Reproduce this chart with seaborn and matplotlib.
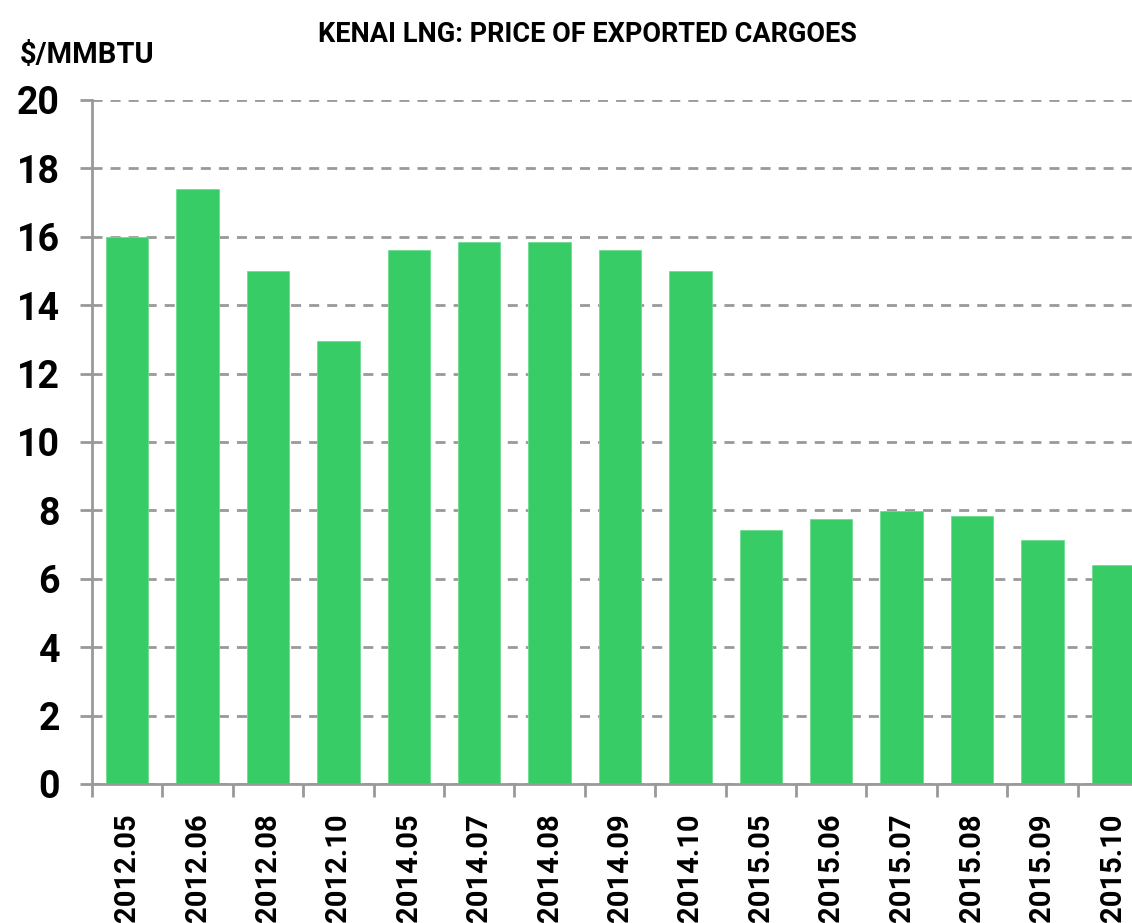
import numpy as np
import pandas as pd
import seaborn as sns
import matplotlib.pyplot as plt

months = ['2012.05', '2012.06', '2012.08', '2012.10', '2014.05', '2014.07', '2014.08',
          '2014.09', '2014.10', '2015.05', '2015.06', '2015.07', '2015.08', '2015.09', '2015.10']
prices = [16.0, 17.4, 15.0, 12.95, 15.6, 15.85, 15.85, 15.6, 15.0, 7.43, 7.75, 7.98, 7.84, 7.13, 6.4]
y_ticks = [0, 2, 4, 6, 8, 10, 12, 14, 16, 18, 20]

sns.set_theme(style='white')
plt.rcParams['font.family'] = ['Roboto', 'DejaVu Sans']
plt.rcParams['font.weight'] = 'bold'
plt.rcParams['text.color'] = 'black'
plt.rcParams['xtick.labelcolor'] = 'black'
plt.rcParams['ytick.labelcolor'] = 'black'

df = pd.DataFrame({'month': months, 'price': prices})

fig = plt.figure(figsize=(11.32, 9.23), dpi=100)
# axes runs a bit past the right edge, like the original
ax = fig.add_axes([92 / 1132, 139 / 923, 1056 / 1132, 684 / 923])

sns.barplot(data=df, x='month', y='price', color='#37cc66', width=0.6,
            saturation=1, edgecolor='#6fdc92', linewidth=0.6, ax=ax)

ax.set_xlim(-0.5, len(months) - 0.5)
ax.set_ylim(0, 20)
ax.set_yticks(y_ticks)
ax.set_axisbelow(True)
ax.yaxis.grid(True, color='#999999', lw=2, ls=(0, (3.6, 2.9)))
ax.xaxis.grid(False)

for s in ['top', 'right']:
    ax.spines[s].set_visible(False)
for s in ['left', 'bottom']:
    ax.spines[s].set_color('#999999')
    ax.spines[s].set_linewidth(2)

# ticks on the category boundaries, labels at the centers
ax.set_xticks(np.arange(len(months) + 1) - 0.5)
ax.set_xticklabels([])
ax.set_xticks(np.arange(len(months)), minor=True)
ax.set_xticklabels(months, minor=True, rotation=90, fontsize=21, fontweight='bold', va='top', color='black')
ax.tick_params(axis='x', which='major', length=9, width=2, color='#999999', direction='out', bottom=True)
ax.tick_params(axis='x', which='minor', length=0, pad=21)
ax.tick_params(axis='y', length=9, width=2, color='#999999', direction='out', left=True, pad=14)
for lbl in ax.get_yticklabels():
    lbl.set_fontsize(27)
    lbl.set_fontweight('bold')
    lbl.set_color('black')

ax.set_xlabel('')
ax.set_ylabel('')

fig.text(587 / 1132, 1 - 34 / 923, 'KENAI LNG: PRICE OF EXPORTED CARGOES', ha='center', va='center',
         fontsize=19.5, fontweight='bold', color='black')
fig.text(20 / 1132, 1 - 55 / 923, '$/MMBTU', ha='left', va='center', fontsize=21, fontweight='bold',
         color='black')

fig.savefig('out.png', dpi=100)
